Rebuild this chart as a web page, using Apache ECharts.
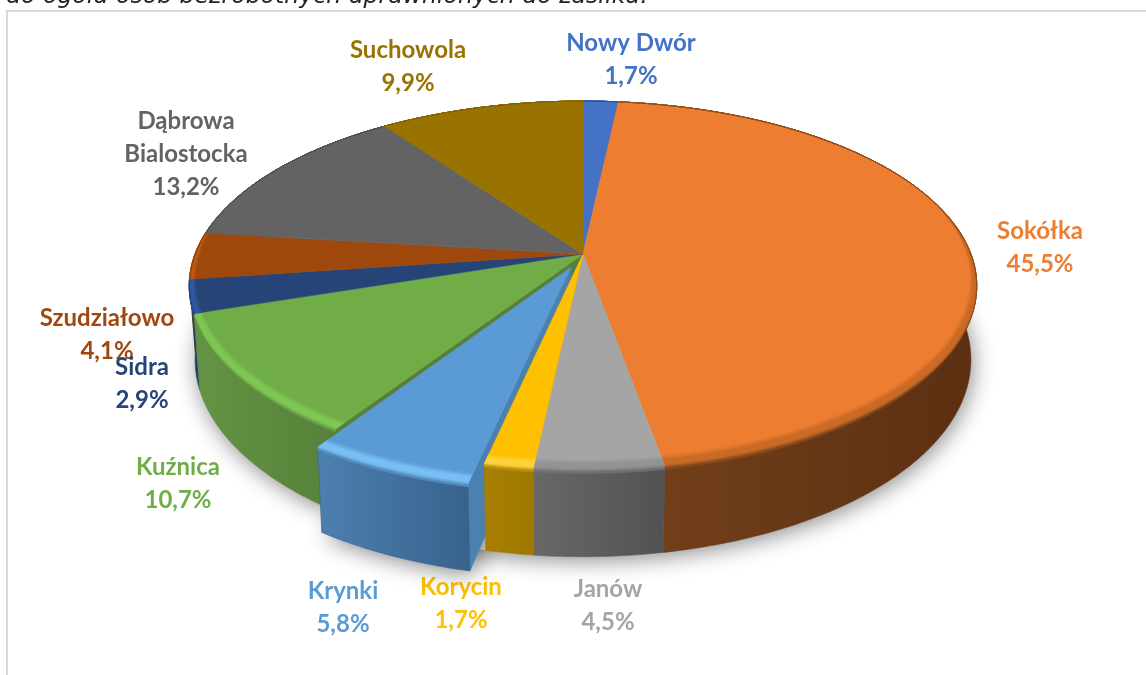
<!DOCTYPE html>
<html>
<head>
<meta charset="utf-8">
<style>
html, body { margin: 0; padding: 0; background: #fff; }
#chart { width: 1146px; height: 675px; }
</style>
<script src="https://cdn.jsdelivr.net/npm/echarts@6/dist/echarts.min.js"></script>
</head>
<body>
<div id="chart"></div>
<script>
// dane
var categories = ['Nowy Dwór', 'Sokółka', 'Janów', 'Korycin', 'Krynki', 'Kuźnica', 'Sidra', 'Szudziałowo', 'Dąbrowa\nBialostocka', 'Suchowola'];
var shares = [1.7, 45.5, 4.5, 1.7, 5.8, 10.7, 2.9, 4.1, 13.2, 9.9];

// kolory
var topColors = ['#4472c4', '#ed7d31', '#a5a5a5', '#ffc000', '#5b9bd5', '#70ad47', '#264478', '#9e480e', '#636363', '#997300'];
var rimColors = ['#4472c4', '#c96a26', '#939393', '#ffd23f', '#78c0f5', '#7fc855', '#2f5aa0', '#c05a12', '#636363', '#997300'];
var wallLeft = ['#2a4778', '#74421b', '#686868', '#a87f00', '#4c80b0', '#639443', '#1f3a68', '#7a380b', '#4a4a4a', '#7a5c00'];
var wallRight = ['#2a4778', '#5c2f12', '#525252', '#9f7800', '#37628c', '#578039', '#1f3a68', '#7a380b', '#4a4a4a', '#7a5c00'];
var labelColors = topColors;

// uklad opisow (srodek pierwszej linii)
var labelPos = [[631, 43], [1040, 231], [608, 589], [461, 587], [343, 591], [178, 467], [142, 367], [107, 318], [186, 121], [408, 50]];

// rzut perspektywiczny
var CX = 583, CY = 254, KX = 388, KY = 179, P = 0.1707, DEPTH = 72;
var EXPLODED = 4, EXPLODE = 0.08;

function project(X, Y, drop) {
    var w = 1 + P * Y;
    var sx = 1 - 0.015 * Math.max(0, drop) / DEPTH;
    return [CX + KX * X / w * sx, CY - KY * Y / w + drop / w];
}

var angles = [];
var sum = 0;
shares.forEach(function (v) {
    angles.push([sum / 100 * Math.PI * 2, (sum + v) / 100 * Math.PI * 2]);
    sum += v;
});

function offsetOf(i) {
    if (i !== EXPLODED) return [0, 0];
    var mid = (angles[i][0] + angles[i][1]) / 2;
    return [EXPLODE * Math.sin(mid), EXPLODE * Math.cos(mid)];
}

// level < 0: wciecie na gornej powierzchni, level > 0: zejscie na sciane
function arc(i, level, reverse, bevel) {
    var a0 = angles[i][0], a1 = angles[i][1];
    var off = offsetOf(i);
    var n = Math.max(2, Math.ceil((a1 - a0) / 0.015));
    var pts = [];
    for (var k = 0; k <= n; k++) {
        var a = a0 + (a1 - a0) * k / n;
        var f = bevel ? Math.max(0, Math.min(1, 0.3 - 0.7 * Math.cos(a))) : 1;
        var r = level < 0 ? 1 + level * f / 220 : 1;
        var d = level > 0 ? level * f : 0;
        pts.push(project(off[0] + r * Math.sin(a), off[1] + r * Math.cos(a), d));
    }
    return reverse ? pts.reverse() : pts;
}

function poly(points, fill, stroke) {
    return {
        type: 'polygon',
        silent: true,
        shape: { points: points },
        style: { fill: fill, stroke: stroke || fill, lineWidth: 0.6 }
    };
}

function wallFill(i) {
    return new echarts.graphic.LinearGradient(0, 0, 1, 0, [
        { offset: 0, color: wallLeft[i] },
        { offset: 1, color: wallRight[i] }
    ]);
}

function wallPart(i) {
    return poly(arc(i, 0).concat(arc(i, DEPTH, true)), wallLeft[i] === wallRight[i] ? wallLeft[i] : wallFill(i), wallRight[i]);
}

function topPart(i) {
    var off = offsetOf(i);
    return poly([project(off[0], off[1], 0)].concat(arc(i, 0)), topColors[i]);
}

// sciana radialna odslonieta przy wysunietym wycinku
function facePart(i, angle, color) {
    var off = offsetOf(i);
    var a = project(off[0], off[1], 0);
    var b = project(off[0] + Math.sin(angle), off[1] + Math.cos(angle), 0);
    var c = project(off[0] + Math.sin(angle), off[1] + Math.cos(angle), DEPTH);
    var d = project(off[0], off[1], DEPTH);
    return poly([a, b, c, d], color);
}

// fazowana krawedz: pas szerszy z przodu, zanika z tylu
function rimPart(i) {
    var steps = 8, out = [], from = -9, to = 3;
    for (var k = 0; k < steps; k++) {
        var d0 = from + (to - from) * k / steps;
        var d1 = from + (to - from) * (k + 1) / steps;
        var t = (k + 0.5) / steps;
        var color = echarts.color.lerp(t, [topColors[i], rimColors[i], rimColors[i], wallLeft[i]]);
        out.push(poly(arc(i, d0, false, true).concat(arc(i, d1, true, true)), color));
    }
    return { type: 'group', children: out };
}

function shadowPart() {
    var pts = [];
    for (var k = 0; k < 360; k++) {
        var a = k / 180 * Math.PI;
        pts.push(project(Math.sin(a), Math.cos(a), DEPTH));
    }
    var style = { fill: '#e6e6e6', shadowBlur: 22, shadowColor: 'rgba(0,0,0,0.45)', shadowOffsetY: 4, shadowOffsetX: 2 };
    var off = offsetOf(EXPLODED);
    return {
        type: 'group',
        children: [
            { type: 'polygon', silent: true, shape: { points: pts }, style: style },
            { type: 'polygon', silent: true, shape: { points: arc(EXPLODED, DEPTH).concat([project(off[0], off[1], DEPTH)]) }, style: style }
        ]
    };
}

// kolejnosc rysowania od tylu do przodu
var parts = [function () { return shadowPart(); }];
[0, 9, 8, 7, 6, 1, 5].forEach(function (i) {
    parts.push(function () { return wallPart(i); });
});
parts.push(function () { return facePart(5, angles[5][0], '#56803a'); });
parts.push(function () { return facePart(EXPLODED, angles[EXPLODED][0], '#4c80ae'); });
[2, 3].forEach(function (i) {
    parts.push(function () { return wallPart(i); });
});
[0, 1, 2, 3, 5, 6, 7, 8, 9].forEach(function (i) {
    parts.push(function () { return topPart(i); });
    parts.push(function () { return rimPart(i); });
});
parts.push(function () { return wallPart(EXPLODED); });
parts.push(function () { return topPart(EXPLODED); });
parts.push(function () { return rimPart(EXPLODED); });

function fmt(v) {
    return v.toFixed(1).replace('.', ',') + '%';
}

var labelOrder = [7, 6, 5, 4, 3, 2, 1, 0, 9, 8];
var labels = labelOrder.map(function (i) {
    return {
        type: 'text',
        x: labelPos[i][0],
        y: labelPos[i][1] - 16,
        silent: true,
        style: {
            text: categories[i] + '\n' + fmt(shares[i]),
            fill: labelColors[i],
            font: 'bold 24px Lato',
            lineHeight: 33,
            align: 'center',
            verticalAlign: 'top'
        }
    };
});

var chart = echarts.init(document.getElementById('chart'), null, { renderer: 'canvas' });
chart.setOption({
    animation: false,
    backgroundColor: '#fff',
    graphic: {
        elements: [
            {
                type: 'rect',
                silent: true,
                z: -1,
                shape: { x: 7, y: 11, width: 1300, height: 800 },
                style: { fill: '#fff', stroke: '#d9d9d9', lineWidth: 2 }
            },
            {
                type: 'text',
                silent: true,
                x: 6,
                y: -15,
                style: {
                    text: 'do ogółu osób bezrobotnych uprawnionych do zasiłku.',
                    font: 'italic 23.6px "DejaVu Sans"',
                    fill: '#222'
                }
            }
        ].concat(labels)
    },
    series: [{
        type: 'custom',
        coordinateSystem: 'none',
        data: parts.map(function (p, i) { return [i]; }),
        renderItem: function (params) {
            return parts[params.dataIndex]();
        }
    }]
});
</script>
</body>
</html>
